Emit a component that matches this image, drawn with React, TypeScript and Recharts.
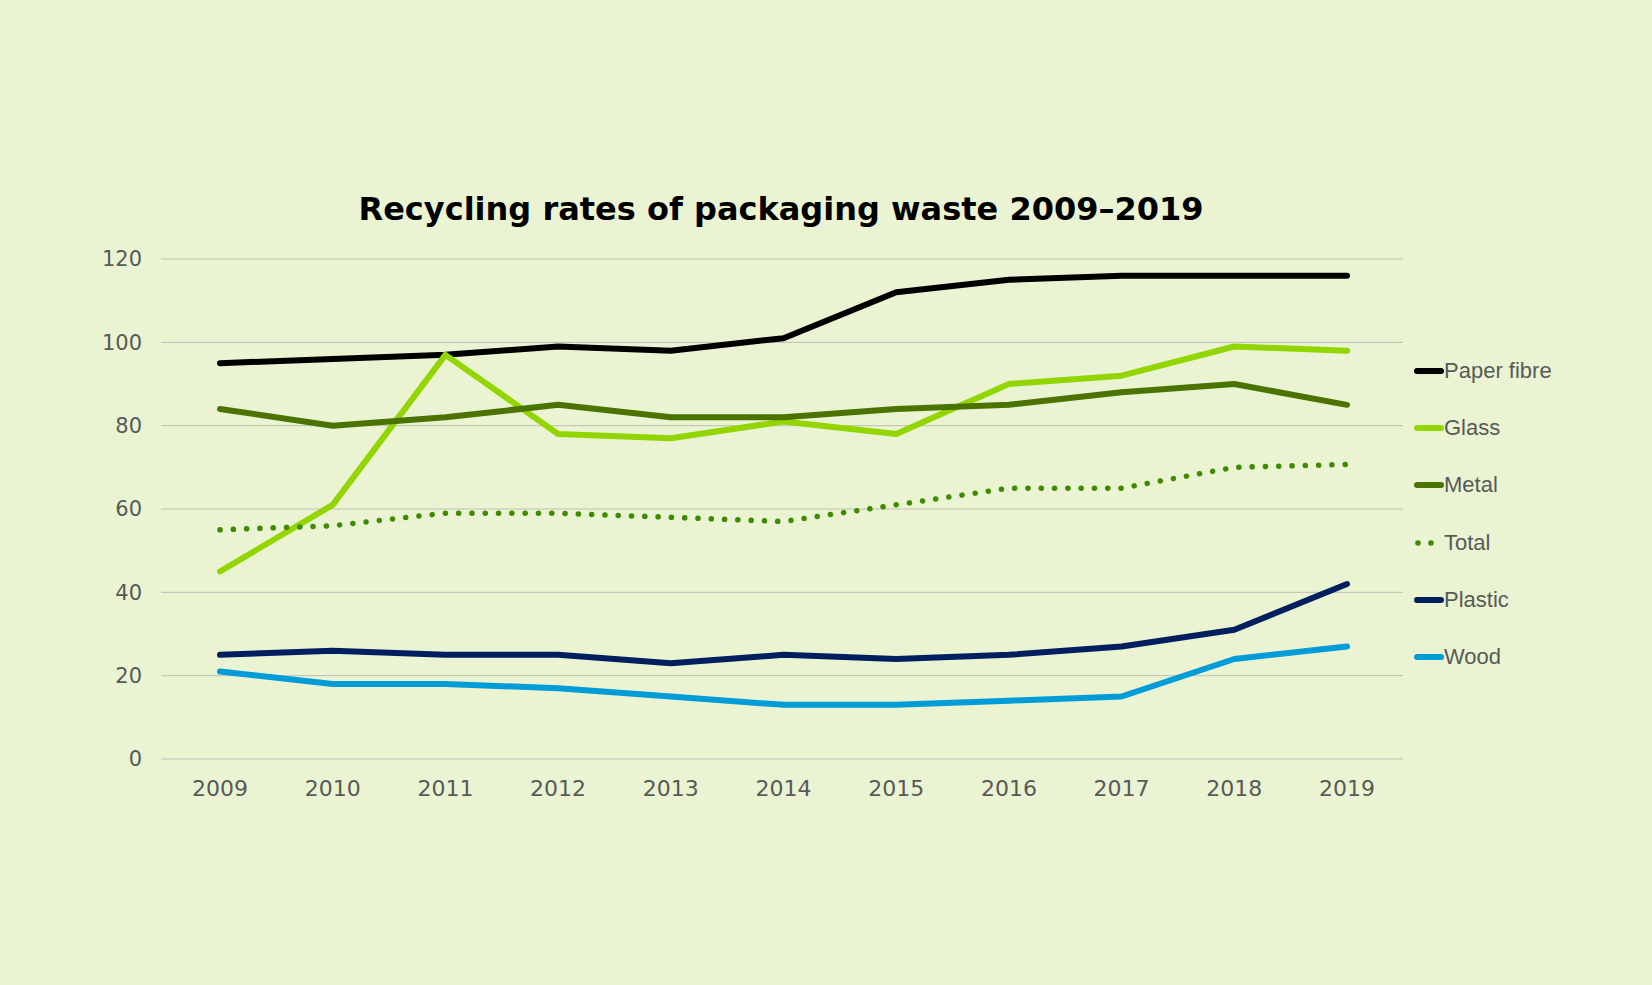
import { LineChart, Line, XAxis, YAxis, CartesianGrid, Legend } from 'recharts';

const years = ['2009', '2010', '2011', '2012', '2013', '2014', '2015', '2016', '2017', '2018', '2019'];
const paperFibre = [95, 96, 97, 99, 98, 101, 112, 115, 116, 116, 116];
const glass = [45, 61, 97, 78, 77, 81, 78, 90, 92, 99, 98];
const metal = [84, 80, 82, 85, 82, 82, 84, 85, 88, 90, 85];
const total = [55, 56, 59, 59, 58, 57, 61, 65, 65, 70, 70.7];
const plastic = [25, 26, 25, 25, 23, 25, 24, 25, 27, 31, 42];
const wood = [21, 18, 18, 17, 15, 13, 13, 14, 15, 24, 27];
const yTicks = [0, 20, 40, 60, 80, 100, 120];

const series = [
  { key: 'paper', name: 'Paper fibre', color: '#000000', values: paperFibre, dotted: false },
  { key: 'glass', name: 'Glass', color: '#93d500', values: glass, dotted: false },
  { key: 'metal', name: 'Metal', color: '#4a7300', values: metal, dotted: false },
  { key: 'total', name: 'Total', color: '#3f8b00', values: total, dotted: true },
  { key: 'plastic', name: 'Plastic', color: '#001f5f', values: plastic, dotted: false },
  { key: 'wood', name: 'Wood', color: '#009cd8', values: wood, dotted: false },
];

const data = years.map((year, i) => {
  const row: Record<string, string | number> = { year };
  series.forEach((s) => {
    row[s.key] = s.values[i];
  });
  return row;
});

const tickStyle = { fill: '#595959', fontFamily: 'DejaVu Sans', fontSize: 21 };

function LegendBox() {
  return (
    <div style={{ fontFamily: 'Liberation Sans, Arial, sans-serif', fontSize: 22, color: '#595959' }}>
      {series.map((s) => (
        <div key={s.key} style={{ display: 'flex', alignItems: 'center', height: 57.3 }}>
          <svg width={30} height={10}>
            {s.dotted ? (
              <>
                <circle cx={4} cy={5} r={2.8} fill={s.color} />
                <circle cx={17} cy={5} r={2.8} fill={s.color} />
              </>
            ) : (
              <line x1={3} y1={5} x2={27} y2={5} stroke={s.color} strokeWidth={6} strokeLinecap="round" />
            )}
          </svg>
          <span>{s.name}</span>
        </div>
      ))}
    </div>
  );
}

export default function App() {
  return (
    <div style={{ position: 'absolute', left: 0, top: 0, width: 1652, height: 985, background: '#eaf4d2' }}>
      <div
        style={{
          position: 'absolute',
          left: 0,
          width: 1562,
          top: 187,
          textAlign: 'center',
          fontFamily: 'DejaVu Sans',
          fontWeight: 'bold',
          fontSize: 32,
          lineHeight: '44px',
          color: '#000',
        }}
      >
        Recycling rates of packaging waste 2009–2019
      </div>
      <LineChart width={1652} height={985} data={data} margin={{ top: 259, right: 249, bottom: 196, left: 101 }}>
        <CartesianGrid vertical={false} stroke="#bdbfb5" strokeWidth={1} />
        <XAxis
          dataKey="year"
          height={30}
          axisLine={false}
          tickLine={false}
          tickSize={0}
          tickMargin={21}
          padding={{ left: 59, right: 56 }}
          tick={{ ...tickStyle, fontSize: 22 }}
        />
        <YAxis
          width={60}
          domain={[0, 120]}
          ticks={yTicks}
          axisLine={false}
          tickLine={false}
          tickSize={0}
          tickMargin={19}
          tick={tickStyle}
        />
        <Legend
          layout="horizontal"
          verticalAlign="middle"
          align="center"
          content={() => <LegendBox />}
          wrapperStyle={{ position: 'absolute', left: 1414, top: 342, width: 220 }}
        />
        {series.map((s) => (
          <Line
            key={s.key}
            type="linear"
            dataKey={s.key}
            name={s.name}
            stroke={s.color}
            strokeWidth={s.dotted ? 5.5 : 6}
            strokeLinecap="round"
            strokeLinejoin="round"
            strokeDasharray={s.dotted ? '0.1 13.2' : undefined}
            dot={false}
            activeDot={false}
            isAnimationActive={false}
          />
        ))}
      </LineChart>
    </div>
  );
}
